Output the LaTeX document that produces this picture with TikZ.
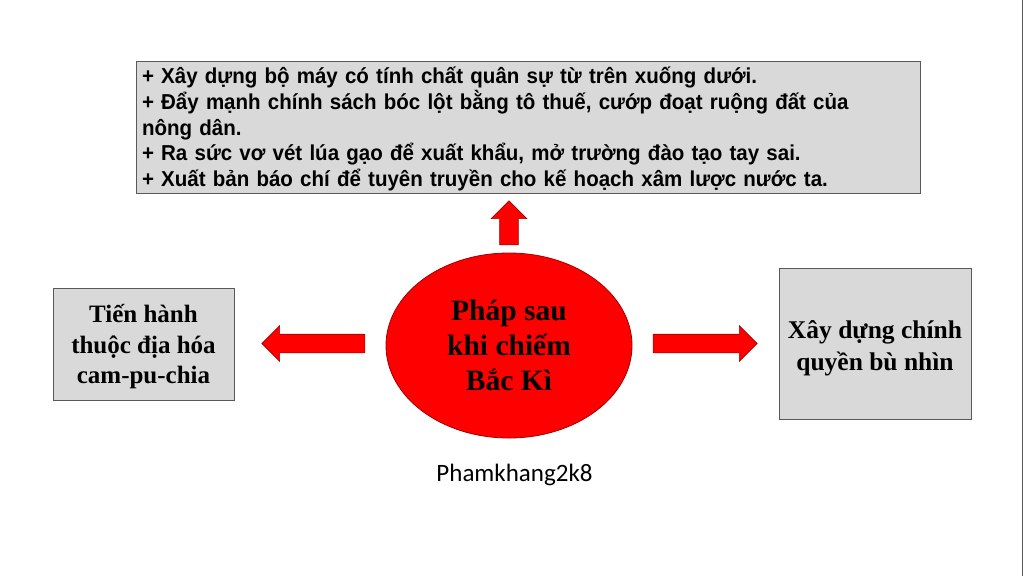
\documentclass[tikz,border=0pt]{standalone}
\usepackage{fontspec}
\setmainfont{Liberation Serif}
\newfontfamily\arialf[FakeStretch=0.95]{Liberation Sans}
\newfontfamily\calibrif{Carlito}
\usetikzlibrary{shapes.geometric,shapes.arrows}
\definecolor{boxgray}{HTML}{D9D9D9}
\definecolor{boxline}{HTML}{595959}
\definecolor{darkred}{HTML}{A00000}
\tikzset{
  graybox/.style={draw=boxline, fill=boxgray, line width=0.9pt, inner sep=0pt},
  redarrow/.style={single arrow, draw=darkred, fill=red, line width=0.6pt,
     single arrow head extend=8.5pt, single arrow tip angle=90},
  harrow/.style={redarrow, inner xsep=0pt, inner ysep=9pt},
  varrow/.style={redarrow, inner xsep=9pt, inner ysep=0pt},
}
\begin{document}
\begin{tikzpicture}[x=1pt,y=-1pt]
\useasboundingbox (0,0) rectangle (1024,576);
\fill[white] (0,0) rectangle (1024,576);
\draw[boxline, line width=1.5pt] (1022.5,0) -- (1022.5,576);
% top box
\node[graybox, minimum width=784pt, minimum height=132pt] (top) at (528,127) {};
\node[text width=772pt, align=left, inner sep=0pt,
  font=\arialf\bfseries\fontsize{21.6}{25.7}\selectfont] (toptext) at ([yshift=-2pt]top.center)
{+ Xây dựng bộ máy có tính chất quân sự từ trên xuống dưới.\\
+ Đẩy mạnh chính sách bóc lột bằng tô thuế, cướp đoạt ruộng đất của\\
nông dân.\\
+ Ra sức vơ vét lúa gạo để xuất khẩu, mở trường đào tạo tay sai.\\
+ Xuất bản báo chí để tuyên truyền cho kế hoạch xâm lược nước ta.};
% center ellipse
\node[ellipse, draw=darkred, fill=red, line width=0.8pt, minimum width=246pt, minimum height=185pt,
  inner sep=0pt, align=center, font=\bfseries\fontsize{29.5}{35}\selectfont] (c) at (509,345.5)
{\rule{0pt}{3pt}Pháp sau\\khi chiếm\\Bắc Kì};
% left box
\node[graybox, minimum width=181pt, minimum height=112pt] (l) at (143.5,344) {};
\node[align=center, inner sep=0pt, font=\bfseries\fontsize{25}{30.5}\selectfont] (ltext)
  at ([yshift=-3pt]l.center) {Tiến hành\\thuộc địa hóa\\cam-pu-chia};
% right box
\node[graybox, minimum width=192pt, minimum height=151pt] (r) at (875,343.5) {};
\node[align=center, inner sep=0pt, font=\bfseries\fontsize{25.5}{32}\selectfont] (rtext)
  at ([yshift=-4.5pt]r.center) {Xây dựng chính\\quyền bù nhìn};
% arrows
\node[varrow, shape border rotate=90, minimum width=35pt, minimum height=44pt] (au) at (509,227.5) {};
\node[harrow, shape border rotate=180, minimum width=35pt, minimum height=103pt] (al) at (318,343.5) {};
\node[harrow, minimum width=35pt, minimum height=104pt] (ar) at (700.5,343.5) {};
% label
\node[font=\calibrif\fontsize{25}{30}\selectfont] (lab) at (514.5,475) {Phamkhang2k8};
\end{tikzpicture}
\end{document}
